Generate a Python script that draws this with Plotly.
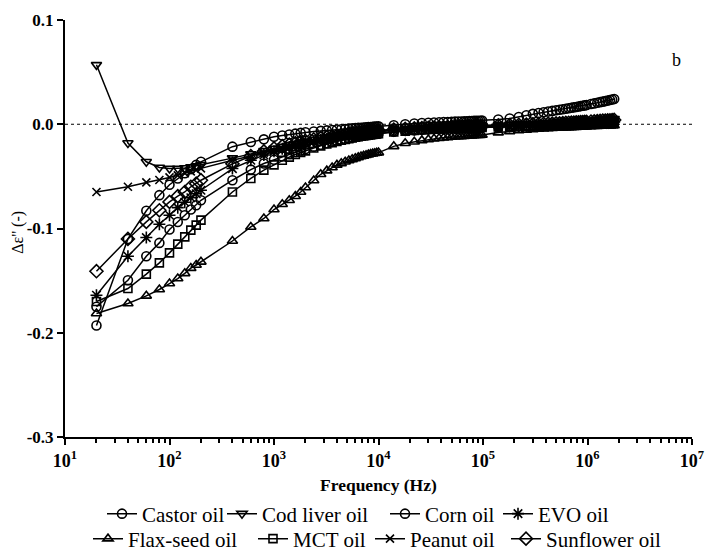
import plotly.graph_objects as go

# ---------------- data ----------------
freq_hz = [
    20, 40, 60, 80, 100, 120, 140, 160, 180, 200,
    400, 600, 800, 1000, 1200, 1400, 1600, 1800, 2000,
    2400, 2800, 3200, 3600, 4000, 4400, 4800, 5200, 5600, 6000,
    6400, 6800, 7200, 7600, 8000, 8400, 8800, 9200, 9600, 10000,
    14000, 18000, 22000, 26000, 30000, 34000, 38000, 42000, 46000, 50000, 54000,
    58000, 62000, 66000, 70000, 74000, 78000, 82000, 86000, 90000, 94000, 98000,
    140000, 180000, 220000, 260000, 300000, 340000, 380000, 420000, 460000, 500000, 540000,
    580000, 620000, 660000, 700000, 740000, 780000, 820000, 860000, 900000, 940000, 980000,
    1080000, 1160000, 1240000, 1320000, 1400000, 1480000, 1560000, 1640000, 1720000, 1800000,
]

castor_oil = [
    -0.193, -0.110, -0.083, -0.068, -0.058, -0.052, -0.047, -0.043, -0.039, -0.036,
    -0.0215, -0.017, -0.0145, -0.012, -0.0108, -0.0098, -0.009, -0.0083, -0.0077,
    -0.0070, -0.0064, -0.0059, -0.0055, -0.0051, -0.0048, -0.0045, -0.0042, -0.0040, -0.0037,
    -0.0035, -0.0033, -0.0031, -0.0029, -0.0027, -0.0026, -0.0024, -0.0023, -0.0021, -0.0020,
    -0.0010, 0.0000, 0.0007, 0.0012, 0.0015, 0.0017, 0.0019, 0.0021, 0.0022, 0.0024, 0.0025,
    0.0026, 0.0027, 0.0028, 0.0029, 0.0030, 0.0031, 0.0032, 0.0033, 0.0033, 0.0034, 0.0035,
    0.0045, 0.0055, 0.0070, 0.0086, 0.0100, 0.0108, 0.0115, 0.0122, 0.0128, 0.0134, 0.0139,
    0.0144, 0.0149, 0.0154, 0.0158, 0.0162, 0.0166, 0.0170, 0.0174, 0.0178, 0.0181, 0.0185,
    0.0194, 0.0200, 0.0206, 0.0212, 0.0217, 0.0222, 0.0227, 0.0232, 0.0237, 0.0242,
]

cod_liver_oil = [
    0.057, -0.018, -0.036, -0.0415, -0.0425, -0.0425, -0.042, -0.041, -0.040, -0.0388,
    -0.0325, -0.0285, -0.0255, -0.0232, -0.0213, -0.0198, -0.0185, -0.0174, -0.0164,
    -0.0148, -0.0135, -0.0125, -0.0116, -0.0109, -0.0102, -0.0097, -0.0092, -0.0087, -0.0083,
    -0.0080, -0.0077, -0.0074, -0.0071, -0.0069, -0.0066, -0.0064, -0.0062, -0.0060, -0.0058,
    -0.0047, -0.0041, -0.0036, -0.0033, -0.0030, -0.0028, -0.0026, -0.0025, -0.0023, -0.0022, -0.0021,
    -0.0020, -0.0019, -0.0018, -0.0017, -0.0017, -0.0016, -0.0015, -0.0015, -0.0014, -0.0014, -0.0013,
    -0.0008, -0.0004, -0.0001, 0.0002, 0.0004, 0.0006, 0.0008, 0.0010, 0.0012, 0.0014, 0.0015,
    0.0017, 0.0019, 0.0020, 0.0022, 0.0023, 0.0025, 0.0026, 0.0027, 0.0029, 0.0030, 0.0031,
    0.0034, 0.0036, 0.0039, 0.0041, 0.0043, 0.0045, 0.0047, 0.0049, 0.0051, 0.0053,
]

corn_oil = [
    -0.175, -0.1496, -0.1266, -0.1138, -0.101, -0.0937, -0.0873, -0.0818, -0.0777, -0.0729,
    -0.0537, -0.0435, -0.0377, -0.034, -0.031, -0.0287, -0.0268, -0.0252, -0.0238,
    -0.0215, -0.0197, -0.0182, -0.0169, -0.0158, -0.0149, -0.0141, -0.0134, -0.0128, -0.0122,
    -0.0117, -0.0113, -0.0109, -0.0105, -0.0102, -0.0099, -0.0096, -0.0093, -0.0091, -0.0089,
    -0.0072, -0.0063, -0.0057, -0.0052, -0.0048, -0.0045, -0.0043, -0.0041, -0.0039, -0.0037, -0.0036,
    -0.0035, -0.0034, -0.0033, -0.0032, -0.0031, -0.0030, -0.0029, -0.0029, -0.0028, -0.0027, -0.0027,
    -0.0022, -0.0019, -0.0016, -0.0014, -0.0012, -0.0010, -0.0009, -0.0007, -0.0006, -0.0005, -0.0004,
    -0.0003, -0.0002, -0.0001, 0.0000, 0.0001, 0.0002, 0.0003, 0.0004, 0.0005, 0.0006, 0.0007,
    0.0009, 0.0011, 0.0013, 0.0015, 0.0017, 0.0019, 0.0021, 0.0023, 0.0025, 0.0027,
]

evo_oil = [
    -0.164, -0.1266, -0.1087, -0.0959, -0.0873, -0.080, -0.0748, -0.0705, -0.0667, -0.0633,
    -0.0425, -0.0345, -0.0295, -0.026, -0.0236, -0.0218, -0.0203, -0.019, -0.0179,
    -0.0162, -0.0149, -0.0138, -0.0129, -0.0121, -0.0115, -0.0109, -0.0104, -0.0099, -0.0095,
    -0.0091, -0.0088, -0.0085, -0.0082, -0.0079, -0.0077, -0.0075, -0.0073, -0.0071, -0.0069,
    -0.0058, -0.0051, -0.0046, -0.0042, -0.0039, -0.0037, -0.0035, -0.0033, -0.0032, -0.0031, -0.0030,
    -0.0029, -0.0028, -0.0027, -0.0026, -0.0025, -0.0025, -0.0024, -0.0023, -0.0023, -0.0022, -0.0022,
    -0.0017, -0.0014, -0.0011, -0.0009, -0.0007, -0.0005, -0.0004, -0.0002, -0.0001, 0.0000, 0.0001,
    0.0002, 0.0003, 0.0004, 0.0005, 0.0006, 0.0007, 0.0008, 0.0009, 0.0010, 0.0011, 0.0012,
    0.0014, 0.0015, 0.0016, 0.0017, 0.0018, 0.0019, 0.0020, 0.0021, 0.0022, 0.0023,
]

flax_seed_oil = [
    -0.1815, -0.172, -0.1646, -0.1585, -0.1528, -0.148, -0.143, -0.138, -0.135, -0.132,
    -0.112, -0.0985, -0.0904, -0.0818, -0.0767, -0.0729, -0.069, -0.065, -0.0607,
    -0.054, -0.048, -0.0445, -0.0415, -0.039, -0.0375, -0.036, -0.0348, -0.0337, -0.0327,
    -0.0318, -0.031, -0.0303, -0.0297, -0.0291, -0.0286, -0.0282, -0.0278, -0.0275, -0.0272,
    -0.0212, -0.0182, -0.0168, -0.0155, -0.0146, -0.0139, -0.0134, -0.0130, -0.0126, -0.0123, -0.0120,
    -0.0118, -0.0116, -0.0114, -0.0112, -0.0110, -0.0109, -0.0107, -0.0106, -0.0105, -0.0104, -0.0103,
    -0.0080, -0.0068, -0.0060, -0.0054, -0.0049, -0.0045, -0.0042, -0.0040, -0.0038, -0.0036, -0.0034,
    -0.0033, -0.0032, -0.0031, -0.0030, -0.0029, -0.0028, -0.0027, -0.0026, -0.0025, -0.0024, -0.0023,
    -0.0021, -0.0019, -0.0018, -0.0017, -0.0016, -0.0015, -0.0014, -0.0013, -0.0012, -0.0011,
]

mct_oil = [
    -0.170, -0.1576, -0.1438, -0.133, -0.1234, -0.115, -0.108, -0.1016, -0.0968, -0.092,
    -0.065, -0.052, -0.044, -0.039, -0.0345, -0.0315, -0.029, -0.027, -0.0255,
    -0.0228, -0.0207, -0.019, -0.0176, -0.0164, -0.0154, -0.0146, -0.0138, -0.0131, -0.0125,
    -0.0120, -0.0115, -0.0111, -0.0107, -0.0104, -0.0101, -0.0098, -0.0095, -0.0093, -0.0091,
    -0.0075, -0.0066, -0.0060, -0.0055, -0.0051, -0.0048, -0.0046, -0.0044, -0.0042, -0.0040, -0.0039,
    -0.0038, -0.0037, -0.0036, -0.0035, -0.0034, -0.0033, -0.0032, -0.0031, -0.0031, -0.0030, -0.0030,
    -0.0026, -0.0023, -0.0021, -0.0019, -0.0017, -0.0016, -0.0014, -0.0013, -0.0012, -0.0011, -0.0010,
    -0.0009, -0.0008, -0.0007, -0.0006, -0.0005, -0.0004, -0.0003, -0.0002, -0.0001, 0.0000, 0.0001,
    0.0003, 0.0004, 0.0005, 0.0006, 0.0007, 0.0008, 0.0009, 0.0010, 0.0011, 0.0012,
]

peanut_oil = [
    -0.065, -0.060, -0.0558, -0.0535, -0.051, -0.049, -0.047, -0.0452, -0.0437, -0.0423,
    -0.0345, -0.0302, -0.0272, -0.0249, -0.0230, -0.0215, -0.0202, -0.0191, -0.0181,
    -0.0165, -0.0152, -0.0141, -0.0132, -0.0124, -0.0117, -0.0111, -0.0106, -0.0101, -0.0097,
    -0.0093, -0.0090, -0.0087, -0.0084, -0.0081, -0.0079, -0.0076, -0.0074, -0.0072, -0.0070,
    -0.0060, -0.0054, -0.0049, -0.0046, -0.0043, -0.0041, -0.0039, -0.0038, -0.0036, -0.0035, -0.0034,
    -0.0033, -0.0032, -0.0031, -0.0031, -0.0030, -0.0029, -0.0029, -0.0028, -0.0028, -0.0027, -0.0027,
    -0.0024, -0.0022, -0.0020, -0.0019, -0.0018, -0.0017, -0.0016, -0.0015, -0.0014, -0.0014, -0.0013,
    -0.0012, -0.0012, -0.0011, -0.0011, -0.0010, -0.0010, -0.0009, -0.0009, -0.0008, -0.0008, -0.0007,
    -0.0006, -0.0005, -0.0005, -0.0004, -0.0003, -0.0003, -0.0002, -0.0002, -0.0001, 0.0000,
]

sunflower_oil = [
    -0.141, -0.110, -0.0937, -0.0825, -0.0745, -0.069, -0.065, -0.060, -0.057, -0.0537,
    -0.038, -0.0305, -0.026, -0.0232, -0.0211, -0.0195, -0.0182, -0.0171, -0.0161,
    -0.0146, -0.0134, -0.0124, -0.0116, -0.0109, -0.0103, -0.0098, -0.0093, -0.0089, -0.0085,
    -0.0082, -0.0079, -0.0076, -0.0073, -0.0071, -0.0069, -0.0067, -0.0065, -0.0063, -0.0061,
    -0.0051, -0.0045, -0.0040, -0.0037, -0.0034, -0.0032, -0.0030, -0.0029, -0.0027, -0.0026, -0.0025,
    -0.0024, -0.0023, -0.0022, -0.0021, -0.0021, -0.0020, -0.0019, -0.0019, -0.0018, -0.0018, -0.0017,
    -0.0012, -0.0008, -0.0005, -0.0003, -0.0001, 0.0001, 0.0003, 0.0005, 0.0006, 0.0008, 0.0009,
    0.0011, 0.0012, 0.0014, 0.0015, 0.0016, 0.0018, 0.0019, 0.0020, 0.0021, 0.0022, 0.0023,
    0.0026, 0.0028, 0.0030, 0.0032, 0.0034, 0.0035, 0.0037, 0.0038, 0.0040, 0.0041,
]

series_names = ["Castor oil", "Cod liver oil", "Corn oil", "EVO oil",
                "Flax-seed oil", "MCT oil", "Peanut oil", "Sunflower oil"]

x_tick_vals = [10, 100, 1000, 10000, 100000, 1000000, 10000000]
x_tick_text = ["10<sup>1</sup>", "10<sup>2</sup>", "10<sup>3</sup>", "10<sup>4</sup>",
               "10<sup>5</sup>", "10<sup>6</sup>", "10<sup>7</sup>"]
y_tick_vals = [0.1, 0.0, -0.1, -0.2, -0.3]
y_tick_text = ["0.1", "0.0", "-0.1", "-0.2", "-0.3"]

# ---------------- styles ----------------
series_values = [castor_oil, cod_liver_oil, corn_oil, evo_oil,
                 flax_seed_oil, mct_oil, peanut_oil, sunflower_oil]
symbols = ["circle-open", "triangle-down-open", "circle-open", "asterisk-open",
           "triangle-up-open", "square-open", "x-thin-open", "diamond-open"]
sizes = [9, 9, 9, 10, 9, 8, 8, 10]

W, H = 707, 552
ML, MR, MT, MB = 65, 15, 20, 115
PW, PH = W - ML - MR, H - MT - MB

# legend entry anchor positions in pixels (marker centre x, row centre y)
legend_px = [(123, 514), (243, 514), (406, 514), (519, 514),
             (109, 539), (274, 539), (391, 539), (527, 539)]

for vals in series_values:
    assert len(vals) == len(freq_hz), (len(vals), len(freq_hz))

SERIF = "Liberation Serif, Times New Roman, serif"

fig = go.Figure()
legend_layouts = {}
for i, (name, vals, sym, sz) in enumerate(zip(series_names, series_values, symbols, sizes)):
    lg = "legend" if i == 0 else "legend%d" % (i + 1)
    fig.add_trace(go.Scatter(
        x=freq_hz, y=vals, name=name, mode="lines+markers",
        line=dict(color="black", width=1.5),
        marker=dict(symbol=sym, size=sz, color="black", line=dict(color="black", width=1.6)),
        legend=lg, cliponaxis=False,
    ))
    px, py = legend_px[i]
    legend_layouts[lg] = dict(
        orientation="h",
        x=(px + 1 - 22 - ML) / PW, xanchor="left",
        y=(MT + PH - py) / PH, yanchor="middle",
        font=dict(family=SERIF, size=21, color="black"),
        bgcolor="rgba(0,0,0,0)", borderwidth=0, itemwidth=30,
    )

minor_vals = [m * 10 ** e for e in range(1, 7) for m in range(2, 10)]

fig.update_layout(
    width=W, height=H,
    margin=dict(l=ML, r=MR, t=MT, b=MB, autoexpand=False),
    paper_bgcolor="white", plot_bgcolor="white",
    font=dict(family=SERIF, color="black"),
    xaxis=dict(
        type="log", range=[1, 7],
        tickvals=x_tick_vals, ticktext=x_tick_text,
        tickfont=dict(family=SERIF, size=18, color="black", weight="bold"),
        showgrid=False, zeroline=False,
        showline=True, linecolor="black", linewidth=2,
        ticks="outside", ticklen=6, tickwidth=2, tickcolor="black",
        minor=dict(tickvals=minor_vals, ticks="outside", ticklen=4, tickwidth=1.5,
                   tickcolor="black", showgrid=False),
    ),
    yaxis=dict(
        range=[-0.3, 0.1],
        tickvals=y_tick_vals, ticktext=y_tick_text,
        tickfont=dict(family=SERIF, size=17, color="black", weight="bold"),
        showgrid=False, zeroline=False,
        showline=True, linecolor="black", linewidth=2,
        ticks="outside", ticklen=6, tickwidth=2, tickcolor="black",
    ),
    showlegend=True,
    **legend_layouts,
)

# dotted zero reference line
fig.add_shape(type="line", xref="paper", yref="y", x0=0, x1=1, y0=0, y1=0,
              line=dict(color="black", width=1, dash="dot"), layer="below")

# axis titles and panel label
fig.add_annotation(text="<b>Frequency (Hz)</b>", xref="paper", yref="paper",
                   x=0.5, y=(MT + PH - 485) / PH, xanchor="center", yanchor="middle",
                   showarrow=False, font=dict(family=SERIF, size=17.5, color="black"))
fig.add_annotation(text="\u0394\u03b5'' (-)", xref="paper", yref="paper",
                   x=(18 - ML) / PW, y=0.49, textangle=-90, xanchor="center", yanchor="middle",
                   showarrow=False, font=dict(family=SERIF, size=16, color="black"))
fig.add_annotation(text="b", xref="paper", yref="paper", x=(676 - ML) / PW,
                   y=(MT + PH - 60) / PH, xanchor="center", yanchor="middle", showarrow=False,
                   font=dict(family=SERIF, size=18, color="black"))

fig.write_html("out.html")
